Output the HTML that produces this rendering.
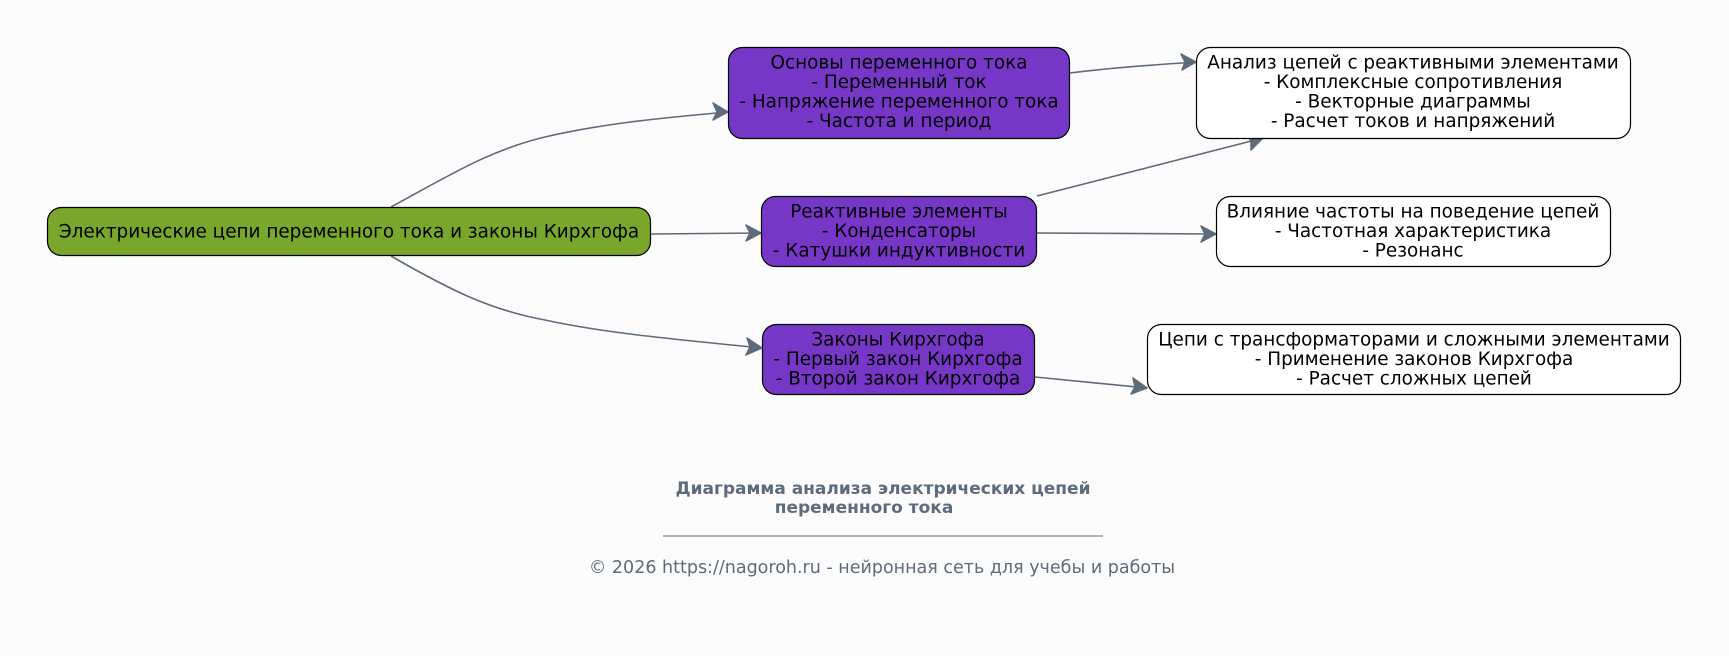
<!DOCTYPE html>
<html><head><meta charset="utf-8"><style>
body{margin:0;background:#fcfcfd;}
svg text{font-family:"DejaVu Sans","Liberation Sans",sans-serif;}
</style></head><body>
<svg width="1729" height="651" viewBox="0 0 1729 651" xmlns="http://www.w3.org/2000/svg">
<rect width="1729" height="651" fill="#fcfcfd"/>
<g fill="none" stroke="#5d6b7a" stroke-width="1.6">
<path d="M391,207 C450,175 490,150 545,137 C600,124 660,118 728,112"/>
<path d="M391,256 C450,290 490,310 545,320 C600,332 660,338 762,348"/>
<path d="M651,234 L761,233"/>
<path d="M1070,73 C1110,68 1150,65 1196,62"/>
<path d="M1037,196 L1263,138"/>
<path d="M1037,233 L1216,234"/>
<path d="M1035,377 L1147,388"/>
</g>
<g fill="#5d6b7a" stroke="#5d6b7a" stroke-width="1.5" stroke-linejoin="round">
<path d="M713,103 L728,112 L713,120 L717,112 Z"/>
<path d="M747,338 L762,348 L746,355 L750,347 Z"/>
<path d="M746,225 L761,233 L746,241 L750,233 Z"/>
<path d="M1181,54 L1196,62 L1182,70 L1185,62 Z"/>
<path d="M1246,134 L1263,138 L1251,150 L1251,141 Z"/>
<path d="M1201,226 L1216,234 L1201,242 L1205,234 Z"/>
<path d="M1133,378 L1147,388 L1131,394 L1135,387 Z"/>
</g>
<g stroke="#000" stroke-width="1.2">
<rect x="47.5" y="207.5" width="603" height="48" rx="14" fill="#78a72b"/>
<rect x="728.5" y="47.5" width="341" height="91" rx="14" fill="#7637c7"/>
<rect x="761.5" y="196.5" width="275" height="70" rx="14" fill="#7637c7"/>
<rect x="762.5" y="324.5" width="272" height="70" rx="14" fill="#7637c7"/>
<rect x="1196.5" y="47.5" width="434" height="91" rx="14" fill="#fff"/>
<rect x="1216.5" y="196.5" width="394" height="70" rx="14" fill="#fff"/>
<rect x="1147.5" y="324.5" width="533" height="70" rx="14" fill="#fff"/>
</g>
<g font-size="18.4" fill="#000" text-anchor="middle">
<text x="349" y="237.5">Электрические цепи переменного тока и законы Кирхгофа</text>
<text x="899" y="68.5">Основы переменного тока</text>
<text x="899" y="88">- Переменный ток</text>
<text x="899" y="107.5">- Напряжение переменного тока</text>
<text x="899" y="127">- Частота и период</text>
<text x="899" y="217.5">Реактивные элементы</text>
<text x="899" y="237">- Конденсаторы</text>
<text x="899" y="256.5">- Катушки индуктивности</text>
<text x="898" y="345.5">Законы Кирхгофа</text>
<text x="898" y="365">- Первый закон Кирхгофа</text>
<text x="898" y="384.5">- Второй закон Кирхгофа</text>
<text x="1413" y="68.5">Анализ цепей с реактивными элементами</text>
<text x="1413" y="88">- Комплексные сопротивления</text>
<text x="1413" y="107.5">- Векторные диаграммы</text>
<text x="1413" y="127">- Расчет токов и напряжений</text>
<text x="1413" y="217.5">Влияние частоты на поведение цепей</text>
<text x="1413" y="237">- Частотная характеристика</text>
<text x="1413" y="256.5">- Резонанс</text>
<text x="1414" y="345.5">Цепи с трансформаторами и сложными элементами</text>
<text x="1414" y="365">- Применение законов Кирхгофа</text>
<text x="1414" y="384.5">- Расчет сложных цепей</text>
</g>
<g fill="#5d6b7a" text-anchor="middle">
<text x="883" y="494" font-size="17" font-weight="bold">Диаграмма анализа электрических цепей</text>
<text x="864" y="513" font-size="17" font-weight="bold">переменного тока</text>
<line x1="663" y1="536" x2="1103" y2="536" stroke="#5d6b7a" stroke-width="1"/>
<text x="882" y="573" font-size="17.5">© 2026 https://nagoroh.ru - нейронная сеть для учебы и работы</text>
</g>
</svg>
</body></html>
